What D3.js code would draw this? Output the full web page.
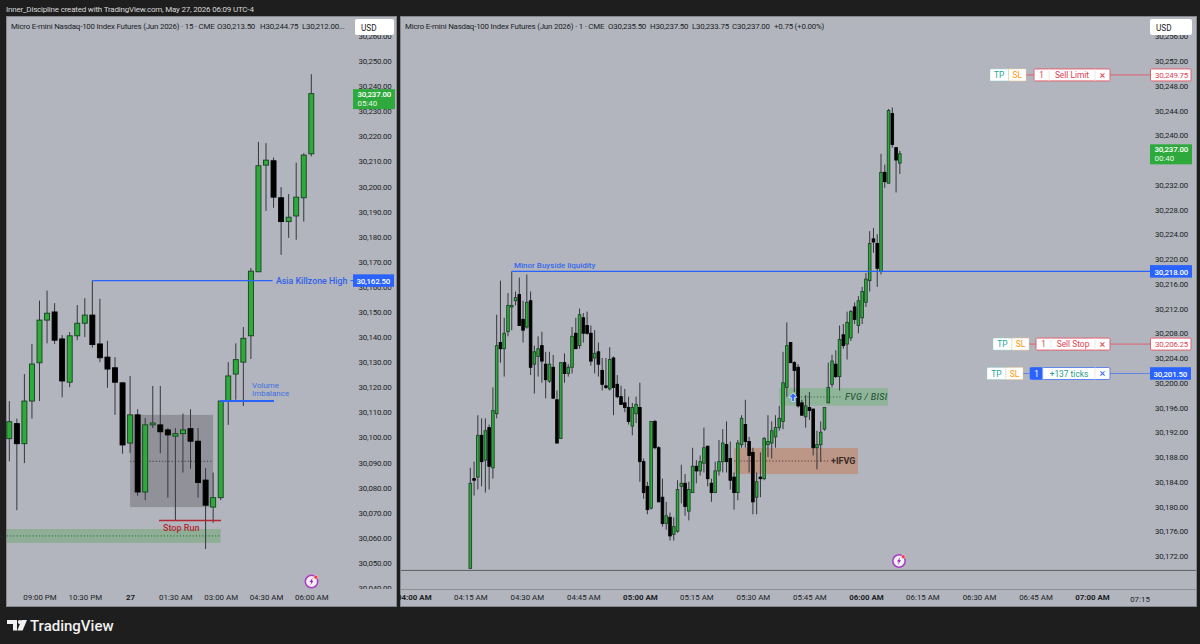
<!DOCTYPE html>
<html>
<head>
<meta charset="utf-8">
<title>MNQ 15m / 1m</title>
<script src="https://cdn.jsdelivr.net/npm/d3@7/dist/d3.min.js"></script>
<style>
html,body{margin:0;padding:0;background:#1e1e1e;}
svg{display:block;}
text{font-family:Roboto,"Noto Sans",sans-serif;}
</style>
</head>
<body>
<svg id="chart" width="1200" height="644"></svg>
<script>
// 15-minute session, one bar every 15 minutes from 20:00
const leftOpen=[30099.5,30105.5,30097.5,30114.5,30129.75,30146.75,30150,30139.25,30122,30140.5,30145.5,30148.75,30137.25,30132,30127.75,30121.75,30097.75,30109,30078.25,30105,30105,30103,30100.5,30101.5,30103.5,30098.5,30083,30072.25,30076,30114.5,30125.25,30130,30140.5,30166,30208.5,30210.25,30195.5,30186,30188.25,30195.5,30213];
const leftHigh=[30114.5,30107.5,30125.25,30137.25,30154.5,30158.5,30153.5,30140.75,30142,30152.75,30155.5,30162.5,30155.25,30138.5,30132,30122,30124.5,30111.25,30107.75,30120.5,30120.5,30103.75,30103.75,30109.5,30111.25,30103.75,30087.75,30086,30114.5,30130,30137.5,30144,30167.5,30217.75,30217.25,30211.5,30199.75,30197,30209.5,30213.25,30244.75];
const leftLow=[30090.5,30071,30089.75,30107.5,30114.5,30137.5,30137.25,30116,30120,30138.75,30140,30135.75,30130,30119.75,30109,30093.5,30093.75,30076.75,30075,30103.75,30093.75,30076,30066.75,30086,30087.5,30076,30055.5,30066,30075,30105,30115,30112.5,30131.25,30166,30190.25,30191.5,30172.75,30179.5,30178.75,30186,30212];
const leftClose=[30106.25,30097.5,30114.5,30129.25,30146.75,30149.5,30138.75,30122.5,30140.5,30145.5,30148.75,30137,30131.75,30127.25,30122,30097,30109,30078.25,30105,30105.75,30102.25,30101,30101.5,30103,30098.5,30082,30073,30076,30114.5,30124.5,30131,30139.5,30166.25,30208.25,30210.5,30195.75,30186,30187.75,30195.75,30212.5,30237];

// 1-minute session, one bar per minute from 04:15
const rightOpen=[30170,30184.5,30184.75,30191.5,30187.5,30192.75,30186.25,30195,30206.5,30205.5,30208.25,30212.25,30213.25,30214.25,30210.25,30209,30213.25,30203,30204.25,30206,30203,30200.25,30202.5,30197.25,30191,30203.25,30201.5,30202.5,30208,30206,30210.5,30209.25,30208,30204,30205,30202,30199.5,30199,30204,30199.75,30197.75,30196.75,30196,30193,30195,30196,30187.25,30183.25,30179.75,30193.75,30189.5,30181.5,30177.25,30178.25,30175.5,30176,30183.25,30183.75,30179.25,30182.25,30186.5,30185.75,30187,30189.75,30183.75,30182.25,30185.75,30187.25,30190,30187.75,30184.75,30182.25,30190,30193.25,30190.5,30188.75,30181.5,30184.75,30184.5,30190,30190.25,30191.25,30192.75,30193.75,30199.25,30206.5,30203.25,30202.5,30196.75,30194.5,30196,30195.75,30189.5,30190,30192.5,30196.75,30199.75,30203,30201,30207.75,30206.25,30207.25,30212.25,30209.25,30210.5,30213,30216.5,30223.25,30222.5,30218,30234,30232.25,30243.5,30238,30235.5];
const rightHigh=[30186.25,30187.25,30194.75,30194.25,30194.25,30193.25,30199.25,30211,30216.5,30210.5,30214.5,30218,30214.75,30217,30213.25,30217.5,30214.75,30206,30207.5,30208.25,30205,30205,30204.5,30198.75,30203.25,30204.75,30203,30209,30210.5,30212,30211.25,30211.5,30209.25,30208.5,30206.5,30204,30204,30205.75,30204.25,30201.25,30199.5,30199,30197.75,30196.75,30197.75,30200,30187.75,30184,30193.75,30194,30189.75,30184.5,30180.75,30179,30178.25,30184.25,30186.75,30185.25,30184,30189.5,30187.5,30188.25,30192.75,30189.75,30184.5,30187.25,30190.75,30192.5,30193.75,30190.5,30185.5,30190.75,30194.75,30197.25,30191.25,30189.5,30185.5,30188.75,30191.25,30194.75,30193.75,30194.75,30196.25,30205,30209.75,30206.5,30203.5,30203,30197.25,30198,30198.5,30195.75,30192.25,30193.75,30196,30203.25,30204.5,30205.25,30209.25,30209.5,30211.5,30211.75,30213,30214,30215.5,30217.75,30224.5,30225,30224,30237,30235.25,30244.25,30244.5,30238,30237.5];
const rightLow=[30170,30181.75,30182.75,30183.25,30182.25,30182.75,30184.5,30194.25,30203.25,30201,30207.5,30208.5,30212.5,30209.25,30206.5,30208.75,30201.25,30198.25,30201,30200,30197.5,30200,30197.5,30190.25,30191,30200,30201,30201.5,30205.5,30205.5,30206.5,30207.75,30202.75,30201.5,30201,30198.75,30199,30198.75,30194.75,30197.5,30196.5,30195.25,30193.25,30191.5,30193.5,30184,30181.25,30178.75,30179.5,30189.25,30180.75,30176.75,30176.25,30174.5,30174.5,30175.75,30180.5,30178.5,30177.75,30182.25,30183.75,30185,30185.5,30183.25,30180.75,30182.25,30185,30185.5,30185.5,30182.75,30179.5,30181,30189.5,30189.5,30185.5,30178.75,30178.75,30181.5,30184.25,30188,30187.75,30189.5,30192.25,30192.5,30197.75,30203.25,30198.5,30196,30194.75,30192.75,30194,30188.25,30186,30187.25,30192.25,30196.75,30199.25,30200.75,30198.75,30205.5,30203.75,30206.75,30209.5,30208,30209.5,30212.25,30214.75,30221,30215.5,30217.5,30231.5,30232.25,30238,30230.75,30233.75];
const rightClose=[30183.75,30184.25,30191.5,30187.25,30192.25,30186.5,30195.5,30206,30205.5,30208,30212.5,30212.5,30213.75,30209.25,30208.5,30213,30202.5,30205,30205.5,30203.5,30200.5,30203,30197.5,30190.25,30203.25,30201.5,30202.5,30207.5,30205.5,30211,30208,30208,30203.5,30204.75,30203,30199.75,30199.25,30203.75,30199.25,30197.75,30196.5,30196,30193.75,30196,30196.5,30187.25,30182.25,30179.5,30193.75,30189.5,30180.75,30177.25,30178.5,30175.25,30176.75,30182.75,30183.75,30180,30182.75,30186.5,30185.75,30187.25,30189.5,30184.5,30182.25,30185.75,30187.25,30190.25,30187.25,30184.25,30182.25,30190.25,30194.25,30190.5,30188.25,30180.75,30184,30184.5,30191,30190.5,30192.25,30192.75,30194.25,30200,30206,30203.25,30202,30196.25,30194.75,30196.25,30195.5,30189.5,30190,30192,30196,30199.25,30203.5,30201,30207,30206,30209.75,30211.5,30210.25,30213.25,30214.75,30216.75,30222.5,30222.75,30218.5,30234,30232.5,30244,30238.5,30236,30237];

// Axis ticks and time labels
const leftPriceTicks=d3.range(30040,30261,10);
const rightPriceTicks=d3.range(30172,30257,4).filter(v=>v!==30236);
const leftTimeTicks=["2026-05-26 21:00","2026-05-26 22:30","2026-05-27 00:00","2026-05-27 01:30","2026-05-27 03:00","2026-05-27 04:30","2026-05-27 06:00"];
const leftTimeLabels=["09:00 PM","10:30 PM","27","01:30 AM","03:00 AM","04:30 AM","06:00 AM"];
const leftTimeBold=["27"];
const rightTimeTicks=["2026-05-27 04:00","2026-05-27 04:15","2026-05-27 04:30","2026-05-27 04:45","2026-05-27 05:00","2026-05-27 05:15","2026-05-27 05:30","2026-05-27 05:45","2026-05-27 06:00","2026-05-27 06:15","2026-05-27 06:30","2026-05-27 06:45","2026-05-27 07:00"];
const rightTimeLabels=["04:00 AM","04:15 AM","04:30 AM","04:45 AM","05:00 AM","05:15 AM","05:30 AM","05:45 AM","06:00 AM","06:15 AM","06:30 AM","06:45 AM","07:00 AM"];
const rightTimeBold=["04:00 AM","05:00 AM","06:00 AM","07:00 AM"];

// Legend readouts above each pane
const leftLegendText=["Micro E-mini Nasdaq-100 Index Futures (Jun 2026) · 15 · CME","O30,213.50","H30,244.75","L30,212.00..."];
const leftLegendX=[11,217,260,302];
const rightLegendText=["Micro E-mini Nasdaq-100 Index Futures (Jun 2026) · 1 · CME","O30,235.50","H30,237.50","L30,233.75","C30,237.00","+0.75 (+0.00%)"];
const rightLegendX=[405,608,650,692,732,774];

// Resting orders on the 1-minute chart
const orderPrices=[30249.75,30206.25,30201.5];
const orderLabels=["Sell Limit","Sell Stop","+137 ticks"];
const orderKinds=["sell","sell","profit"];

const parseT=d3.timeParse("%Y-%m-%d %H:%M");
const svg=d3.select("#chart");
const BG="#b2b5be",GREEN="#2eaa3c",BLUE="#2962ff",INK="#1b1d24";
const SMALL=7.9,TIGHT="-.2px";
const fmtPrice=d3.format(",.2f");

svg.append("rect").attr("width",1200).attr("height",644).attr("fill","#1e1e1e");
svg.append("text").attr("x",6).attr("y",12).attr("fill","#d8d8d8").attr("font-size",8)
  .style("letter-spacing",TIGHT).text("Inner_Discipline created with TradingView.com, May 27, 2026 06:09 UTC-4");

function makePane(id,x0,x1){
  const g=svg.append("g").attr("id",id);
  g.append("rect").attr("x",x0+.5).attr("y",16.5).attr("width",x1-x0-1).attr("height",590)
    .attr("fill",BG).attr("stroke","#85878d");
  return g;
}

function legend(g,texts,xs){
  g.selectAll(null).data(texts).join("text").attr("x",(d,i)=>xs[i]).attr("y",28.5)
    .attr("font-size",SMALL).attr("fill",INK).style("letter-spacing",TIGHT).text(d=>d);
}

function drawCandles(g,xs,y,opens,highs,lows,closes,start,stepMin,bodyW,stroke){
  const t=i=>d3.timeMinute.offset(start,i*stepMin);
  const bars=g.append("g").selectAll("g").data(opens.map((o,i)=>({o,h:highs[i],l:lows[i],c:closes[i],t:t(i)})))
    .join("g");
  bars.append("line").attr("x1",d=>xs(d.t)).attr("x2",d=>xs(d.t))
    .attr("y1",d=>y(d.h)).attr("y2",d=>y(d.l)).attr("stroke","#35373c").attr("stroke-width",1);
  bars.append("rect").attr("x",d=>xs(d.t)-bodyW/2).attr("width",bodyW)
    .attr("y",d=>y(Math.max(d.o,d.c)))
    .attr("height",d=>Math.max(1,Math.abs(y(d.o)-y(d.c))))
    .attr("fill",d=>d.c>=d.o?GREEN:"#000")
    .attr("stroke",d=>d.c>=d.o?stroke:"#000").attr("stroke-width",.9);
}

function drawAxes(g,id,xs,y,priceTicks,timeTicks,timeLabels,boldLabels,axisLeft,axisRight,plotL,plotR){
  svg.append("clipPath").attr("id",id+"-clip").append("rect")
    .attr("x",axisLeft).attr("y",34).attr("width",axisRight-axisLeft).attr("height",555);
  const py=g.append("g").attr("clip-path",`url(#${id}-clip)`).append("g")
    .attr("transform",`translate(${axisRight-4.5},0)`)
    .call(d3.axisRight(y).tickValues(priceTicks).tickSize(0).tickFormat(fmtPrice));
  py.select(".domain").remove();
  py.selectAll("text").attr("x",0).attr("text-anchor","end").attr("fill",INK).attr("font-size",SMALL)
    .style("font-family","Roboto").style("letter-spacing",TIGHT);
  const dates=timeTicks.map(parseT);
  svg.append("clipPath").attr("id",id+"-xclip").append("rect")
    .attr("x",plotL).attr("y",590).attr("width",plotR-plotL).attr("height",16);
  const tx=g.append("g").attr("clip-path",`url(#${id}-xclip)`).append("g")
    .attr("transform","translate(0,591)")
    .call(d3.axisBottom(xs).tickValues(dates).tickSize(0).tickPadding(3)
      .tickFormat((d,i)=>timeLabels[i]));
  tx.select(".domain").remove();
  tx.selectAll("text").attr("fill",INK).attr("font-size",SMALL).style("font-family","Roboto")
    .attr("font-weight",function(){return boldLabels.includes(this.textContent)?700:400;});
}

function usdButton(g,x,w){
  g.append("rect").attr("x",x).attr("y",19).attr("width",w).attr("height",16).attr("rx",2).attr("fill","#fff");
  g.append("text").attr("x",x+6).attr("y",30.5).attr("font-size",8.2).attr("fill",INK).text("USD");
}

function priceBadge(g,x,w,y,price,fill,sub){
  const h=sub?20:12.5;
  const top=sub?y-9.5:y-6.25;
  g.append("rect").attr("x",x).attr("y",top).attr("width",w).attr("height",h).attr("fill",fill);
  g.append("text").attr("x",x+w-4).attr("y",sub?top+8:top+9.4).attr("text-anchor","end")
    .attr("font-size",SMALL).attr("font-weight",500).style("letter-spacing",TIGHT).attr("fill","#fff").text(fmtPrice(price));
  if(sub) g.append("text").attr("x",x+4.5).attr("y",top+17).attr("font-size",SMALL).attr("fill","#e8f5e9").text(sub);
}

function boltIcon(g,cx,cy){
  const i=g.append("g").attr("transform",`translate(${cx},${cy})`);
  i.append("circle").attr("r",6.2).attr("fill","#f4eef6").attr("stroke","#a83fc4").attr("stroke-width",1.6);
  i.append("path").attr("d","M1.2,-3.8 L-2,0.6 L-0.2,0.6 L-1.2,3.8 L2,-0.8 L0.2,-0.8 Z").attr("fill","#8e24aa");
  i.append("circle").attr("cx",4.3).attr("cy",-4.3).attr("r",1.9).attr("fill","#f23645").attr("stroke","#f4eef6").attr("stroke-width",.5);
}

/* ---------- 15-minute pane ---------- */
const L=makePane("pane15",6,397);
const lx=d3.scaleTime().domain([parseT("2026-05-26 20:00"),parseT("2026-05-27 06:00")]).range([9.3,311.3]);
const ly=d3.scaleLinear().domain([30250,30040]).range([61,588]);

legend(L,leftLegendText,leftLegendX);

// Consolidation box and its midline
const boxL=lx(parseT("2026-05-27 00:00")),boxR=lx(parseT("2026-05-27 02:45"));
L.append("rect").attr("x",boxL).attr("width",boxR-boxL).attr("y",ly(30109)).attr("height",ly(30072.25)-ly(30109))
  .attr("fill","#6f7074").attr("fill-opacity",.5);
L.append("line").attr("x1",boxL).attr("x2",boxR).attr("y1",ly(30090.5)).attr("y2",ly(30090.5))
  .attr("stroke","#3a3a3a").attr("stroke-dasharray","1.2 2");
// Sell-side zone
const zoneR=lx(parseT("2026-05-27 03:00"));
L.append("rect").attr("x",7).attr("width",zoneR-7).attr("y",ly(30063.5)).attr("height",ly(30058)-ly(30063.5))
  .attr("fill","#8fae96");
L.append("line").attr("x1",7).attr("x2",zoneR).attr("y1",ly(30060.75)).attr("y2",ly(30060.75))
  .attr("stroke","#2f6b3a").attr("stroke-dasharray","1.2 2");

drawCandles(L,lx,ly,leftOpen,leftHigh,leftLow,leftClose,parseT("2026-05-26 20:00"),15,5,"#17401f");

// Asia high
L.append("line").attr("x1",lx(parseT("2026-05-26 22:45"))).attr("x2",272.5).attr("y1",ly(30162.5)).attr("y2",ly(30162.5))
  .attr("stroke",BLUE).attr("stroke-width",1.2);
L.append("text").attr("x",276).attr("y",ly(30162.5)+3).attr("font-size",8.8).attr("font-weight",500)
  .attr("fill","#2f62ea").text("Asia Killzone High");
L.append("line").attr("x1",350.5).attr("x2",353).attr("y1",ly(30162.5)).attr("y2",ly(30162.5)).attr("stroke",BLUE);
// Volume imbalance
L.append("line").attr("x1",220).attr("x2",274).attr("y1",ly(30114.5)).attr("y2",ly(30114.5))
  .attr("stroke",BLUE).attr("stroke-width",2);
L.append("text").attr("x",252).attr("y",388).attr("font-size",8).attr("fill","#3f6fe0").text("Volume");
L.append("text").attr("x",252).attr("y",395.5).attr("font-size",8).attr("fill","#3f6fe0").text("Imbalance");
// Stop run
L.append("line").attr("x1",159).attr("x2",221).attr("y1",ly(30066.9)).attr("y2",ly(30066.9))
  .attr("stroke","#b22833").attr("stroke-width",1.4);
L.append("text").attr("x",163).attr("y",531).attr("font-size",9).attr("font-weight",500)
  .attr("fill","#b22833").text("Stop Run");

drawAxes(L,"pane15",lx,ly,leftPriceTicks,leftTimeTicks,leftTimeLabels,leftTimeBold,350,396,7,396);
priceBadge(L,353,42,ly(30237)+5,30237,GREEN,"05:40");
priceBadge(L,353,41,ly(30162.5),30162.5,BLUE);
usdButton(L,355,39);
boltIcon(L,311.5,581.5);

/* ---------- 1-minute pane ---------- */
const R=makePane("pane1",400,1197);
const rx=d3.scaleTime().domain([parseT("2026-05-27 04:15"),parseT("2026-05-27 07:00")]).range([470.3,1092]);
const ry=d3.scaleLinear().domain([30252,30172]).range([61,556]);

legend(R,rightLegendText,rightLegendX);

// Session low line and the time scale separator
R.append("line").attr("x1",401).attr("x2",1196).attr("y1",ry(30169.75)+.5).attr("y2",ry(30169.75)+.5).attr("stroke","#5c5e64");
R.append("line").attr("x1",401).attr("x2",1196).attr("y1",589.5).attr("y2",589.5).attr("stroke","#8d8f96");

// Fair value gap
const fvgL=rx(parseT("2026-05-27 05:37")),fvgR=888;
R.append("rect").attr("x",fvgL).attr("width",fvgR-fvgL).attr("y",ry(30199.15)).attr("height",ry(30196.3)-ry(30199.15))
  .attr("fill","#8fb49a");
R.append("line").attr("x1",fvgL+12).attr("x2",842).attr("y1",ry(30197.7)).attr("y2",ry(30197.7))
  .attr("stroke","#3f6b4c").attr("stroke-dasharray","1.2 2");
R.append("text").attr("x",845).attr("y",ry(30197.7)+3).attr("font-size",9).attr("font-style","italic").attr("font-weight",500)
  .attr("fill","#2f5f40").style("letter-spacing",".25px").text("FVG / BISI");
// Inverted fair value gap
const ifvgL=rx(parseT("2026-05-27 05:25")),ifvgR=858;
R.append("rect").attr("x",ifvgL).attr("width",ifvgR-ifvgL).attr("y",ry(30189.45)).attr("height",ry(30185.25)-ry(30189.45))
  .attr("fill","#bc9788");
R.append("line").attr("x1",ifvgL).attr("x2",830).attr("y1",ry(30187.35)).attr("y2",ry(30187.35))
  .attr("stroke","#5b3b30").attr("stroke-dasharray","1.2 2");
R.append("text").attr("x",831).attr("y",ry(30187.35)+3).attr("font-size",9).attr("font-weight",700)
  .attr("fill","#3a2a24").text("+IFVG");

drawCandles(R,rx,ry,rightOpen,rightHigh,rightLow,rightClose,parseT("2026-05-27 04:15"),1,2.6,"#1d4727");

// Entry arrow
R.append("path").attr("transform",`translate(793,${ry(30197.7)})`)
  .attr("d","M0,-4 L4,0.4 L1.3,0.4 L1.3,4.5 L-1.3,4.5 L-1.3,0.4 L-4,0.4 Z")
  .attr("fill",BLUE).attr("stroke","#e8ecff").attr("stroke-width",.7);

// Buyside liquidity line
const bslX=rx(parseT("2026-05-27 04:26"));
R.append("line").attr("x1",bslX).attr("x2",1150).attr("y1",ry(30218)).attr("y2",ry(30218)).attr("stroke",BLUE).attr("stroke-width",1.2);
R.append("text").attr("x",514).attr("y",ry(30218)-3.4).attr("font-size",8).attr("font-weight",500)
  .attr("fill","#3568ec").text("Minor Buyside liquidity");

drawAxes(R,"pane1",rx,ry,rightPriceTicks,rightTimeTicks,rightTimeLabels,rightTimeBold,1150,1192.5,400,1150);
R.append("text").attr("x",1140).attr("y",601.5).attr("text-anchor","middle").attr("font-size",SMALL).attr("fill",INK).text("07:15");

// Order tickets
const ticketBoxes=[[990,1008.5,1026,1034,1049],[993,1012,1029,1036,1051],[987,1006,1023,1030,1043]];
orderPrices.forEach((p,i)=>{
  const y=ry(p),sell=orderKinds[i]==="sell",[tp,sl,end,box,div]=ticketBoxes[i];
  const col=sell?"#e2606d":"#5f83ea",y0=y-6;
  R.append("line").attr("x1",end).attr("x2",1150).attr("y1",y).attr("y2",y).attr("stroke",col);
  const tk=R.append("g");
  [[tp,sl,"TP","#26a69a","#8fd0c8"],[sl,end,"SL","#ff9800","#f2c98a"]].forEach(([a,b,s,c,bc])=>{
    tk.append("rect").attr("x",a).attr("y",y0).attr("width",b-a).attr("height",12).attr("fill","#fff")
      .attr("stroke",bc).attr("stroke-width",.7).attr("stroke-dasharray","1.5 1");
    tk.append("text").attr("x",(a+b)/2).attr("y",y+3.3).attr("text-anchor","middle").attr("font-size",8.4).attr("fill",c).text(s);
  });
  tk.append("rect").attr("x",box).attr("y",y0).attr("width",1110-box).attr("height",12).attr("rx",1.5)
    .attr("fill","#fff").attr("stroke",col);
  if(!sell) tk.append("rect").attr("x",box).attr("y",y0).attr("width",div-box).attr("height",12).attr("fill",BLUE);
  tk.append("text").attr("x",(box+div)/2).attr("y",y+3.3).attr("text-anchor","middle").attr("font-size",8.2)
    .attr("fill",sell?"#e0404f":"#fff").text("1");
  tk.append("line").attr("x1",div).attr("x2",div).attr("y1",y0).attr("y2",y0+12).attr("stroke","#e8e8ea");
  tk.append("line").attr("x1",1095).attr("x2",1095).attr("y1",y0).attr("y2",y0+12).attr("stroke","#e8e8ea");
  tk.append("text").attr("x",(div+1095)/2).attr("y",y+3.3).attr("text-anchor","middle").attr("font-size",8.4)
    .attr("fill",sell?"#e0404f":"#1f9b8c").text(orderLabels[i]);
  tk.append("text").attr("x",1102.5).attr("y",y+3.8).attr("text-anchor","middle").attr("font-size",11)
    .attr("fill",sell?"#e0404f":BLUE).text("×");
  // Axis tag for the order
  if(sell){
    R.append("rect").attr("x",1150.5).attr("y",y0).attr("width",40.5).attr("height",12).attr("rx",1).attr("fill","#fff").attr("stroke",col);
    R.append("text").attr("x",1188).attr("y",y+3).attr("text-anchor","end").attr("font-size",SMALL)
      .style("letter-spacing",TIGHT).attr("fill","#e0404f").text(fmtPrice(p));
  } else priceBadge(R,1150,41,y,p,BLUE);
});

priceBadge(R,1150,42,ry(30237),30237,GREEN,"00:40");
priceBadge(R,1150,42,ry(30218),30218,BLUE);
usdButton(R,1150,42);
boltIcon(R,899,561);

/* ---------- footer mark ---------- */
const logo=svg.append("g").attr("fill","#f2f2f2");
logo.append("path").attr("d","M7,620 H17 V630.5 H13 V624 H7 Z");
logo.append("circle").attr("cx",19.8).attr("cy",622).attr("r",2);
logo.append("path").attr("d","M21.5,620 H27 L22.6,630.5 H17.3 Z");
logo.append("text").attr("x",30).attr("y",630.5).attr("font-size",15).attr("font-weight",500).attr("fill","#f2f2f2").text("TradingView");
</script>
</body>
</html>
